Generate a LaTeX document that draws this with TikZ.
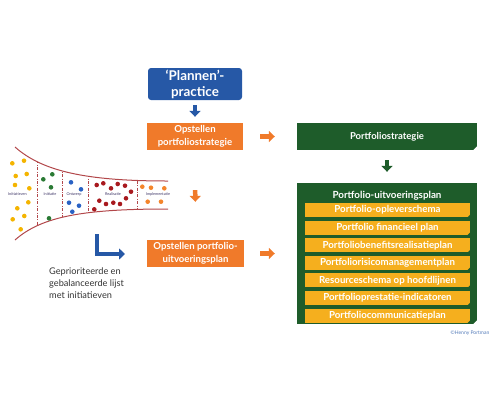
\documentclass[tikz,border=0pt]{standalone}
\usepackage{fontspec}
\setmainfont{Lato}
\usetikzlibrary{positioning, arrows.meta}

\definecolor{blueC}{RGB}{38,88,166}
\definecolor{orangeC}{RGB}{240,122,42}
\definecolor{greenC}{RGB}{30,92,42}
\definecolor{yellowC}{RGB}{245,175,30}
\definecolor{funnelC}{RGB}{178,71,74}
\definecolor{dotY}{RGB}{244,180,0}
\definecolor{dotG}{RGB}{42,122,52}
\definecolor{dotB}{RGB}{42,98,196}
\definecolor{dotR}{RGB}{168,25,30}
\definecolor{dotO}{RGB}{244,133,43}
\definecolor{labelC}{RGB}{61,53,102}

\begin{document}
\begin{tikzpicture}[x=1pt,y=-1pt,>={Triangle[length=6pt,width=11pt]},
  every node/.style={inner sep=0pt},
  box/.style={shape=rectangle,fill=#1,text=white,align=center,font=\bfseries\fontsize{9.6}{12.5}\selectfont},
  bar/.style={box=yellowC,minimum width=165pt,minimum height=14pt,font=\bfseries\fontsize{9.7}{11}\selectfont},
  blockarrow/.style={->,line width=4.5pt,#1},
  phase/.style={text=labelC,font=\fontsize{3.8}{4}\selectfont},
  divider/.style={funnelC,line width=0.7pt,dash pattern=on 3pt off 1.5pt on 0.8pt off 1.5pt},
]
\useasboundingbox (0,0) rectangle (495,400);

	% create the nodes
	\node[box=blueC,rounded corners=3pt,minimum width=94pt,minimum height=32pt,font=\bfseries\fontsize{13.4}{16}\selectfont] (plannen) at (195,84) {‘Plannen’-\\practice};
	\node[box=orangeC,minimum width=96pt,minimum height=27pt] (ops) at (195,136.5) {Opstellen\\portfoliostrategie};
	\node[box=orangeC,minimum width=97pt,minimum height=27pt] (opu) at (195.5,253.5) {Opstellen portfolio-\\uitvoeringsplan};
	\node[box=greenC,minimum width=180pt,minimum height=27pt,font=\bfseries\fontsize{9.5}{11}\selectfont] (strat) at (387,136.5) {Portfoliostrategie};
	\node[box=greenC,minimum width=180pt,minimum height=141pt] (uvp) at (387,253.5) {};
	\node[text=white,font=\bfseries\fontsize{9.8}{11}\selectfont] (titel) at (387,195.5) {Portfolio-uitvoeringsplan};

	% the plan parts
	\node[bar] (y1) at (387.5,210) {Portfolio-opleverschema};
	\foreach \i/\t in {2/Portfolio financieel plan,3/Portfoliobenefitsrealisatieplan,4/Portfoliorisicomanagementplan,5/Resourceschema op hoofdlijnen,6/Portfolioprestatie-indicatoren,7/Portfoliocommunicatieplan}{
		\pgfmathtruncatemacro{\j}{\i-1}
		\node[bar,below=3.2pt of y\j] (y\i) {\t};
	}

	% cut corners
	\fill[white] (strat.south east) -- ++(-4,0) -- ++(4,-4) -- cycle;
	\fill[white] (uvp.south east) -- ++(-4,0) -- ++(4,-4) -- cycle;
	\foreach \n in {1,...,7}
		\fill[greenC] (y\n.south east) -- ++(-2.5,0) -- ++(2.5,-2.5) -- cycle;

	% arrows
	\draw[blockarrow=blueC,shorten <=5pt,shorten >=6pt] (plannen) -- (ops);
	\draw[blockarrow=orangeC,shorten <=40pt,shorten >=38pt] (ops) -- (opu);
	\draw[blockarrow=orangeC,shorten <=17pt,shorten >=22pt] (ops) -- (strat);
	\draw[blockarrow=orangeC,shorten <=16pt,shorten >=22pt] (opu.east) -- (opu.east -| uvp.west);
	\draw[blockarrow=greenC,shorten <=10pt,shorten >=11pt] (strat) -- (uvp);

	% funnel
	\draw[funnelC,line width=1pt] (15,147) .. controls (42,171) and (85,181) .. (168,181);
	\draw[funnelC,line width=1pt] (15,240) .. controls (42,216) and (85,209) .. (168,209);
	\begin{scope}
		\clip (15,147) .. controls (42,171) and (85,181) .. (168,181) -- (168,209) .. controls (85,209) and (42,216) .. (15,240) -- cycle;
		\foreach \x in {37,62,88,137}
			\draw[divider] (\x,140) -- (\x,250);
	\end{scope}

	% dots
	\foreach \p in {(12.3,163.3),(24,160.7),(15.7,176),(26.7,174),(15,185),(29.3,188.3),(28.3,202.3),(17.3,208.3),(24.3,216),(12.7,219.3),(20.7,229.3)}
		\fill[dotY] \p circle (2.3);
	\foreach \p in {(43.3,179.3),(52.3,174.3),(51,187.3),(49,218.3)}
		\fill[dotG] \p circle (2.3);
	\foreach \p in {(71,182.3),(81,189.3),(69,202.7),(79,205.7),(72.3,211.7)}
		\fill[dotB] \p circle (2.3);
	\foreach \p in {(96.7,185),(103.3,183.3),(111,188.3),(117.7,184),(125,185.7),(131,191.7),(99.3,200.7),(106,204),(113.3,202.7),(120,204),(126,198.3),(94.3,209.3)}
		\fill[dotR] \p circle (2.3);
	\foreach \p in {(142.3,186.7),(151,187.7),(164.3,188.3),(147.7,201.7),(161,201.7)}
		\fill[dotO] \p circle (2.3);

	% phase labels
	\node[phase] (f1) at (17.5,194) {Initiatieven};
	\node[phase] (f2) at (50,194) {Initiatie};
	\node[phase] (f3) at (74,194) {Ontwerp};
	\node[phase] (f4) at (113,194) {Realisatie};
	\node[phase] (f5) at (158,194) {Implementatie};

	% prioritised list
	\coordinate (l1) at (97,234);
	\coordinate (l2) at (125,254);
	\draw[blockarrow=blueC,->={Triangle[length=7pt,width=11pt]}] (l1) |- (l2);
	\node[anchor=west,align=left,text=black!80,font=\fontsize{9.2}{12.3}\selectfont] (lijst) at (49,283) {Geprioriteerde en\\gebalanceerde lijst\\met initiatieven};

	\node[text=blueC!80,font=\fontsize{5}{6}\selectfont] (copy) at (470,333.5) {©Henny Portman};
\end{tikzpicture}
\end{document}
